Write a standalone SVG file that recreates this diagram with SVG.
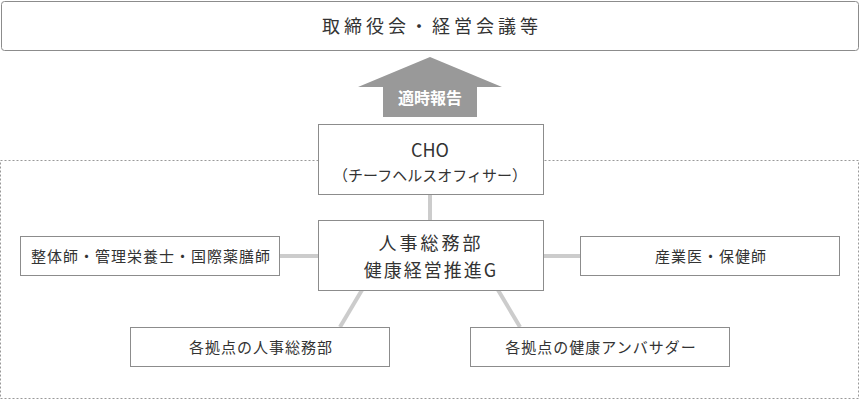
<svg xmlns="http://www.w3.org/2000/svg" width="860" height="400" viewBox="0 0 860 400">
<style>
.b{fill:#fff;stroke:#8c8c8c;stroke-width:1}
.t{font-family:"Noto Sans CJK JP","Liberation Sans",sans-serif;fill:#333;text-anchor:middle}
.s{font-size:15px;letter-spacing:1px}
.c{stroke:#cccccc;stroke-width:4;fill:none}
</style>
<rect x="0.5" y="160.5" width="858" height="238" fill="none" stroke="#999" stroke-dasharray="2,2"/>
<g id="connectors">
<line class="c" x1="430" y1="194" x2="430" y2="220"/>
<line class="c" x1="279" y1="256" x2="318" y2="256"/>
<line class="c" x1="543" y1="256" x2="580" y2="256"/>
<line class="c" x1="362" y1="290" x2="340" y2="327"/>
<line class="c" x1="498" y1="290" x2="520" y2="327"/>
</g>
<g id="top"><rect class="b" x="1.5" y="1.5" width="857" height="49" rx="3"/><text class="t" x="432" y="33" font-size="18" letter-spacing="4">取締役会・経営会議等</text></g>
<g id="arrow"><polygon points="430,57 502,87 477,87 477,117 383,117 383,87 358,87" fill="#999"/><text class="t" x="430" y="104" font-size="16" font-weight="bold" style="fill:#fff">適時報告</text></g>
<g id="cho"><rect class="b" x="318.5" y="124.5" width="225" height="70"/><text class="t" x="430" y="157" font-size="18">CHO</text><text class="t" x="430" y="181" font-size="15">（チーフヘルスオフィサー）</text></g>
<g id="hr"><rect class="b" x="318.5" y="220.5" width="225" height="70"/><text class="t" x="431" y="250" font-size="18" letter-spacing="3">人事総務部</text><text class="t" x="431" y="277" font-size="18" letter-spacing="2">健康経営推進G</text></g>
<g id="left"><rect class="b" x="20.5" y="236.5" width="259" height="39"/><text class="t s" x="151" y="262">整体師・管理栄養士・国際薬膳師</text></g>
<g id="right"><rect class="b" x="580.5" y="236.5" width="259" height="39"/><text class="t s" x="711" y="262">産業医・保健師</text></g>
<g id="bl"><rect class="b" x="130.5" y="327.5" width="259" height="39"/><text class="t s" x="261" y="353">各拠点の人事総務部</text></g>
<g id="br"><rect class="b" x="470.5" y="327.5" width="259" height="39"/><text class="t s" x="601" y="353">各拠点の健康アンバサダー</text></g>
</svg>
